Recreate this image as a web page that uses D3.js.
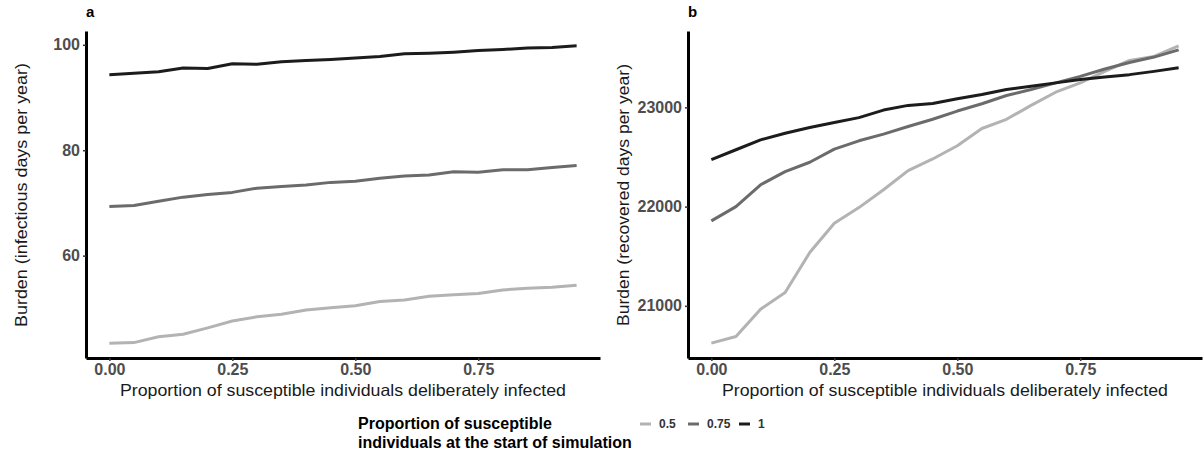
<!DOCTYPE html>
<html>
<head>
<meta charset="utf-8">
<script src="https://cdn.jsdelivr.net/npm/d3@7"></script>
<style>
  body { margin: 0; background: #fff; }
  svg text { font-family: "Liberation Sans", Arial, sans-serif; }
  .tick text { font-weight: bold; fill: #4d4d4d; font-size: 16px; }
  .tick line { stroke: #333; stroke-width: 1.5; }
  .domain { stroke: #000; stroke-width: 3; }
</style>
</head>
<body>
<svg id="chart" width="1203" height="453"></svg>
<script>
var width = 1203;
var height = 453;

// proportion deliberately infected
var xVals = [0, 0.05, 0.10, 0.15, 0.20, 0.25, 0.30, 0.35, 0.40, 0.45,
             0.50, 0.55, 0.60, 0.65, 0.70, 0.75, 0.80, 0.85, 0.90, 0.95];

var groups = ["0.5", "0.75", "1"];
var colors = ["#b3b3b3", "#6b6b6b", "#1c1c1c"];

// panel a: infectious days per year
var infect05 = [43.4, 43.5, 44.6, 45.1, 46.3, 47.6, 48.4, 48.9, 49.7, 50.1,
                50.5, 51.3, 51.6, 52.3, 52.6, 52.8, 53.5, 53.8, 54.0, 54.4];
var infect075 = [69.3, 69.5, 70.3, 71.1, 71.6, 72.0, 72.8, 73.1, 73.4, 73.9,
                 74.1, 74.7, 75.1, 75.3, 75.9, 75.8, 76.3, 76.3, 76.7, 77.1];
var infect1 = [94.3, 94.6, 94.9, 95.6, 95.5, 96.4, 96.3, 96.8, 97.0, 97.2,
               97.5, 97.8, 98.3, 98.4, 98.6, 98.9, 99.1, 99.4, 99.5, 99.8];

// panel b: recovered days per year
var recov05 = [20624, 20691, 20966, 21134, 21537, 21832, 21990, 22170, 22363, 22480,
               22613, 22787, 22880, 23020, 23153, 23247, 23363, 23473, 23513, 23620];
var recov075 = [21856, 22000, 22220, 22353, 22447, 22580, 22663, 22730, 22807, 22880,
                22963, 23037, 23120, 23180, 23247, 23313, 23387, 23453, 23507, 23580];
var recov1 = [22473, 22573, 22673, 22740, 22797, 22847, 22897, 22973, 23020, 23040,
              23087, 23130, 23180, 23213, 23247, 23280, 23307, 23330, 23363, 23400];

var xTicks = [0, 0.25, 0.5, 0.75];
var yTicksA = [60, 80, 100];
var yTicksB = [21000, 22000, 23000];

var svg = d3.select("#chart");

function expand(ext, f) {
  var pad = (ext[1] - ext[0]) * f;
  return [ext[0] - pad, ext[1] + pad];
}

function panel(opts) {
  var x = d3.scaleLinear()
    .domain(expand(d3.extent(xVals), 0.05))
    .range([opts.left, opts.right]);

  var all = d3.merge(opts.series);
  var y = d3.scaleLinear()
    .domain(expand(d3.extent(all), 0.05))
    .range([358, 31]);

  var line = d3.line()
    .x(function(d, i) { return x(xVals[i]); })
    .y(function(d) { return y(d); });

  svg.append("g").selectAll("path")
    .data(opts.series)
    .enter().append("path")
    .attr("d", line)
    .attr("fill", "none")
    .attr("stroke", function(d, i) { return colors[i]; })
    .attr("stroke-width", 3)
    .attr("stroke-linejoin", "round");

  svg.append("g")
    .attr("transform", "translate(" + opts.left + ",0)")
    .call(d3.axisLeft(y).tickValues(opts.yTicks).tickFormat(d3.format("d"))
      .tickSize(3).tickSizeOuter(0).tickPadding(3));

  svg.append("g")
    .attr("transform", "translate(0,358)")
    .call(d3.axisBottom(x).tickValues(xTicks).tickFormat(d3.format(".2f"))
      .tickSize(3).tickSizeOuter(0).tickPadding(3));

  svg.append("text")
    .attr("x", (opts.left + opts.right) / 2)
    .attr("y", 396)
    .attr("text-anchor", "middle")
    .attr("textLength", 446)
    .attr("lengthAdjust", "spacingAndGlyphs")
    .style("font-size", "16.5px")
    .style("fill", "#1a1a1a")
    .text("Proportion of susceptible individuals deliberately infected");

  svg.append("text")
    .attr("transform", "translate(" + opts.titleX + ",195) rotate(-90)")
    .attr("text-anchor", "middle")
    .attr("textLength", opts.titleLen)
    .attr("lengthAdjust", "spacingAndGlyphs")
    .style("font-size", "16.5px")
    .style("fill", "#1a1a1a")
    .text(opts.yTitle);

  svg.append("text")
    .attr("x", opts.left)
    .attr("y", 17)
    .style("font-size", "15px")
    .style("font-weight", "bold")
    .text(opts.tag);
}

panel({
  left: 86, right: 600, titleX: 27, titleLen: 264,
  series: [infect05, infect075, infect1],
  yTicks: yTicksA,
  yTitle: "Burden (infectious days per year)",
  tag: "a"
});

panel({
  left: 688, right: 1202, titleX: 629, titleLen: 262,
  series: [recov05, recov075, recov1],
  yTicks: yTicksB,
  yTitle: "Burden (recovered days per year)",
  tag: "b"
});

// legend
var legend = svg.append("g");

legend.append("text")
  .attr("x", 358)
  .attr("y", 429)
  .style("font-size", "16px")
  .style("font-weight", "bold")
  .selectAll("tspan")
  .data(["Proportion of susceptible", "individuals at the start of simulation"])
  .enter().append("tspan")
  .attr("x", 358)
  .attr("dy", function(d, i) { return i ? 19 : 0; })
  .text(function(d) { return d; });

var keyX = [640, 688, 739];
var item = legend.selectAll(".item")
  .data(groups)
  .enter().append("g")
  .attr("class", "item")
  .attr("transform", function(d, i) { return "translate(" + keyX[i] + ",424)"; });

item.append("line")
  .attr("x1", 0).attr("x2", 11)
  .attr("stroke", function(d, i) { return colors[i]; })
  .attr("stroke-width", 3);

item.append("text")
  .attr("x", 19)
  .attr("dy", "0.35em")
  .style("font-size", "12px")
  .style("font-weight", "bold")
  .style("fill", "#333")
  .text(function(d) { return d; });
</script>
</body>
</html>
